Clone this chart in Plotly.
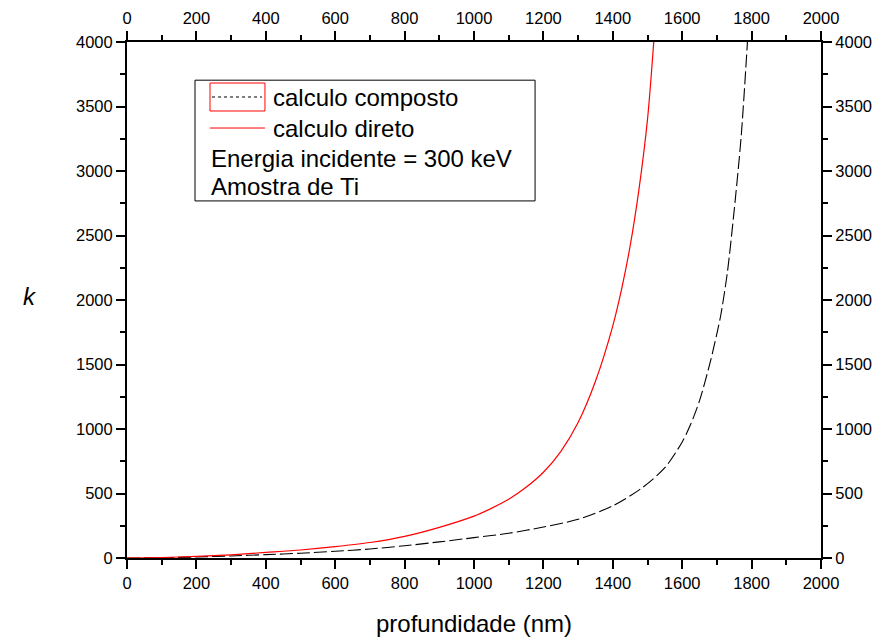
import plotly.graph_objects as go

# Depth (nm) and k for the direct calculation
depth_direto = [0, 100, 200, 300, 400, 500, 600, 700, 800, 900, 1000, 1050, 1100, 1150,
                1200, 1250, 1300, 1350, 1400, 1425, 1450, 1475, 1500, 1518]
k_direto = [0, 4, 12, 25, 43, 62, 88, 120, 168, 238, 325, 385, 455, 548,
            665, 825, 1050, 1370, 1800, 2080, 2420, 2850, 3400, 4000]

# Depth (nm) and k for the composite calculation
depth_composto = [0, 100, 200, 300, 400, 500, 600, 700, 800, 900, 1000, 1100, 1200,
                  1300, 1400, 1480, 1550, 1600, 1625, 1650, 1680, 1700, 1711,
                  1730, 1750, 1770, 1788]
k_composto = [0, 2, 8, 16, 26, 37, 52, 70, 95, 125, 158, 192, 240,
              300, 405, 535, 700, 900, 1040, 1220, 1510, 1740, 1880,
              2210, 2700, 3270, 4000]

x_ticks = list(range(0, 2001, 200))
y_ticks = list(range(0, 4001, 500))

FONT = "Liberation Sans, Arial, sans-serif"

fig = go.Figure()
fig.add_trace(go.Scatter(x=depth_composto, y=k_composto, mode="lines",
                         line=dict(color="black", width=1.1, dash="13px,4px",
                                   shape="spline", smoothing=0.8),
                         showlegend=False))
fig.add_trace(go.Scatter(x=depth_direto, y=k_direto, mode="lines",
                         line=dict(color="#ff0000", width=1.2, shape="spline", smoothing=0.8),
                         showlegend=False))
# invisible trace so the mirrored top/right axes get drawn
fig.add_trace(go.Scatter(x=[0], y=[0], xaxis="x2", yaxis="y2", mode="markers",
                         marker=dict(opacity=0), showlegend=False, hoverinfo="skip"))

axis_common = dict(showline=True, linecolor="black", linewidth=2, showgrid=False,
                   zeroline=False, ticks="outside", ticklen=9, tickwidth=2, automargin=False,
                   tickcolor="black", tickfont=dict(family=FONT, size=16.5, color="black"),
                   minor=dict(ticks="outside", ticklen=5, tickwidth=2, tickcolor="black"))

fig.update_layout(
    width=884, height=641,
    margin=dict(l=127, r=63, t=42, b=83),
    paper_bgcolor="white", plot_bgcolor="white",
    xaxis=dict(range=[0, 2000], tickvals=x_ticks, minor_dtick=100,
               title=dict(text="profundidade (nm)", font=dict(family=FONT, size=24, color="black"),
                          standoff=24),
               **axis_common),
    yaxis=dict(range=[0, 4000], tickvals=y_ticks, minor_dtick=250, **axis_common),
    xaxis2=dict(range=[0, 2000], tickvals=x_ticks, minor_dtick=100, overlaying="x",
                side="top", anchor="y", **axis_common),
    yaxis2=dict(range=[0, 4000], tickvals=y_ticks, minor_dtick=250, overlaying="y",
                side="right", anchor="x", **axis_common),
)

# Legend box with line samples and notes
shapes = [
    dict(type="rect", xref="paper", yref="paper", x0=0.098, x1=0.588, y0=0.692, y1=0.926,
         line=dict(color="black", width=1), fillcolor="white"),
    dict(type="rect", xref="paper", yref="paper", x0=0.1196, x1=0.1988, y0=0.8663, y1=0.9205,
         line=dict(color="#ff0000", width=1)),
    dict(type="line", xref="paper", yref="paper", x0=0.1225, x1=0.1945, y0=0.8934, y1=0.8934,
         line=dict(color="black", width=1, dash="3px,3px")),
    dict(type="line", xref="paper", yref="paper", x0=0.1196, x1=0.1988, y0=0.8333, y1=0.8333,
         line=dict(color="#ff0000", width=1)),
]
fig.update_layout(shapes=shapes)

legend_texts = [
    ("calculo composto", 0.2075, 0.8934),
    ("calculo direto", 0.2075, 0.8333),
    ("Energia incidente = 300 keV", 0.1175, 0.775),
    ("Amostra de Ti", 0.1175, 0.719),
]
for txt, px, py in legend_texts:
    fig.add_annotation(text=txt, xref="paper", yref="paper", x=px, y=py,
                       xanchor="left", yanchor="middle", showarrow=False,
                       font=dict(family=FONT, size=24, color="black"))

fig.add_annotation(text="<i>k</i>", xref="paper", yref="paper", x=-0.14, y=0.506,
                   xanchor="center", yanchor="middle", showarrow=False,
                   font=dict(family=FONT, size=24, color="black"))

fig.write_html("out.html")
